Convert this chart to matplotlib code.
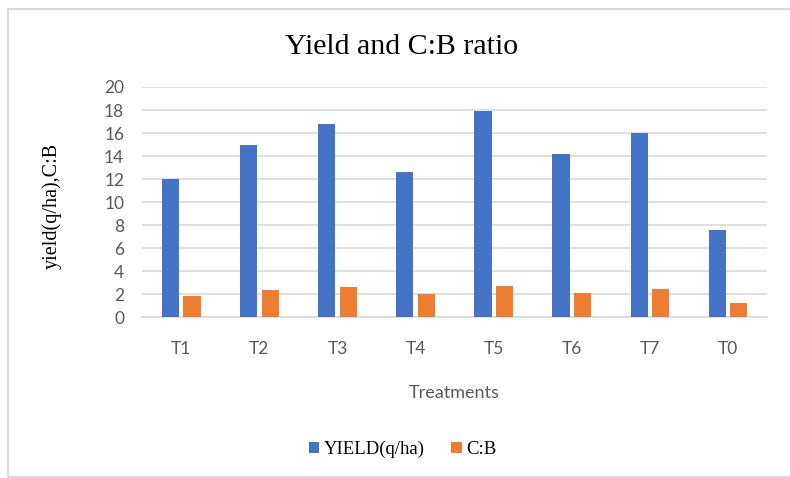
import numpy as np
import matplotlib.pyplot as plt
from matplotlib.patches import Rectangle

treatments = ["T1", "T2", "T3", "T4", "T5", "T6", "T7", "T0"]
yield_qha = [12.0, 15.0, 16.8, 12.6, 17.9, 14.15, 16.0, 7.6]
cb_ratio = [1.88, 2.34, 2.66, 2.0, 2.75, 2.14, 2.46, 1.24]

blue = "#4472C4"
orange = "#ED7D31"
grey = "#595959"
sans = "Lato"
serif = "Liberation Serif"

fig = plt.figure(figsize=(7.9, 4.78), dpi=100)
ax = fig.add_axes([0.18, 0.336, 0.791, 0.482])

x = np.arange(len(treatments))
w = 0.22
ax.bar(x - 0.138, yield_qha, w, color=blue, label="YIELD(q/ha)", zorder=3)
ax.bar(x + 0.138, cb_ratio, w, color=orange, label="C:B", zorder=3)

ax.set_xlim(-0.5, len(treatments) - 0.5)
ax.set_ylim(0, 20)
ax.set_yticks(np.arange(0, 21, 2))
ax.set_xticks(x)
ax.set_xticklabels(treatments)
ax.yaxis.grid(True, color="#d9d9d9", linewidth=1.2, zorder=0)
ax.tick_params(length=0, colors=grey, labelsize=12.5)
ax.tick_params(axis="y", pad=13)
ax.tick_params(axis="x", pad=17)
for lab in ax.get_xticklabels() + ax.get_yticklabels():
    lab.set_family(sans)
for s in ["top", "right", "left"]:
    ax.spines[s].set_visible(False)
ax.spines["bottom"].set_color("#d9d9d9")
ax.spines["bottom"].set_linewidth(1.2)

ax.set_xlabel("Treatments", family=sans, fontsize=13, color=grey, labelpad=20)
fig.text(0.066, 0.57, "yield(q/ha),C:B", rotation=90, family=serif, fontsize=14.5,
         ha="center", va="center")
fig.text(0.508, 0.902, "Yield and C:B ratio", family=serif, fontsize=21.5,
         ha="center", va="center")

fig.legend(loc="center", bbox_to_anchor=(0.51, 0.06), ncol=2, frameon=False,
           prop={"family": serif, "size": 13.5}, handlelength=0.55, handleheight=0.55,
           handletextpad=0.25, columnspacing=1.4)

fig.patches.append(Rectangle((0.010, 0.003), 1.2, 0.978, transform=fig.transFigure,
                             fill=False, edgecolor="#d9d9d9", linewidth=1.5))

fig.savefig("out.png", dpi=100)
